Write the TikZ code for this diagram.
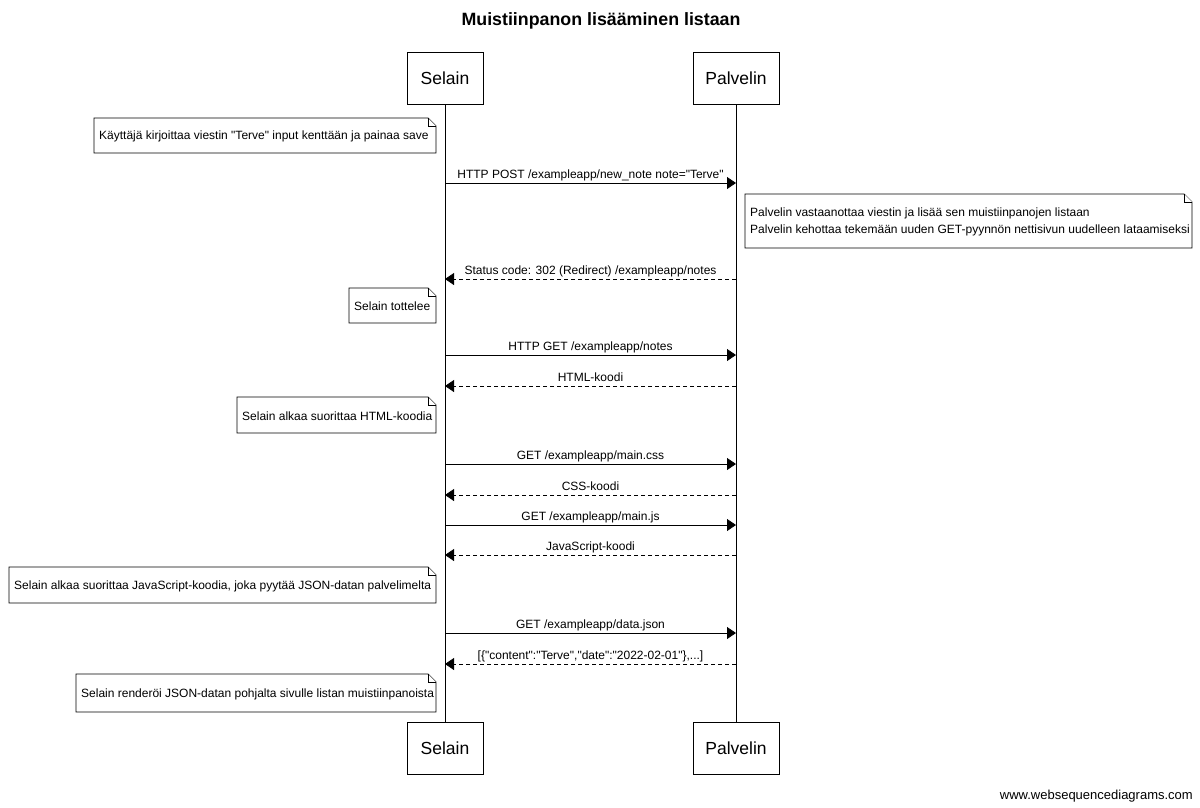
\documentclass[tikz,border=0pt]{standalone}
\usepackage{fontspec}
\setmainfont{Liberation Sans}[Ligatures=TeXOff]
\usetikzlibrary{arrows.meta}
\newcommand\mynote[6]{%
  \draw[notebox] (#2,#3) -- ({#4-8},#3) -- (#4,{#3+8}) -- (#4,#5) -- (#2,#5) -- cycle;
  \draw[notebox] ({#4-8},#3) -- ({#4-8},{#3+8}) -- (#4,{#3+8});
  \node[notetext] (#1) at ({#2+5},{(#3+#5)/2+1}) {#6};
}
\begin{document}
\begin{tikzpicture}[x=1pt,y=-1pt,
  actor/.style={draw, line width=0.8pt, minimum height=52pt, inner sep=0pt, font=\fontsize{17.5}{20}\selectfont},
  life/.style={line width=0.8pt},
  msg/.style={line width=0.8pt, -{Triangle[length=9pt,width=12pt]}},
  ret/.style={msg, dash pattern=on 4pt off 3pt},
  lbl/.style={font=\fontsize{12}{14}\selectfont, inner sep=0pt, anchor=base, yshift=5pt},
  notebox/.style={line width=0.8pt, fill=white},
  notetext/.style={font=\fontsize{12}{17}\selectfont, inner sep=0pt, anchor=west, align=left}
]
\useasboundingbox[fill=white] (0,0) rectangle (1200,807);

\node[font=\bfseries\fontsize{17.8}{21}\selectfont] (title) at (601,21) {Muistiinpanon lisääminen listaan};

\node[actor, minimum width=76pt] (selTop) at (445,78) {Selain};
\node[actor, minimum width=86pt] (palTop) at (736,78) {Palvelin};
\node[actor, minimum width=76pt] (selBot) at (445,748) {Selain};
\node[actor, minimum width=86pt] (palBot) at (736,748) {Palvelin};

\draw[life] (selTop.south) -- (selBot.north);
\draw[life] (palTop.south) -- (palBot.north);

\mynote{n1}{94}{118}{436}{153}{Käyttäjä kirjoittaa viestin "Terve" input kenttään ja painaa save}

\coordinate (s1) at (445,183); \coordinate (p1) at (736,183);
\draw[msg] (s1) -- node[lbl] {HTTP POST /exampleapp/new\_note note="Terve"} (p1);

\mynote{n2}{745}{194}{1192}{248}{Palvelin vastaanottaa viestin ja lisää sen muistiinpanojen listaan\\Palvelin kehottaa tekemään uuden GET-pyynnön nettisivun uudelleen lataamiseksi}

\coordinate (s2) at (445,279); \coordinate (p2) at (736,279);
\draw[ret] (p2) -- node[lbl] {Status code: 302 (Redirect) /exampleapp/notes} (s2);

\mynote{n3}{349}{288}{436}{323}{Selain tottelee}

\coordinate (s3) at (445,355); \coordinate (p3) at (736,355);
\draw[msg] (s3) -- node[lbl] {HTTP GET /exampleapp/notes} (p3);

\coordinate (s4) at (445,386); \coordinate (p4) at (736,386);
\draw[ret] (p4) -- node[lbl] {HTML-koodi} (s4);

\mynote{n4}{237}{397}{436}{433}{Selain alkaa suorittaa HTML-koodia}

\coordinate (s5) at (445,464); \coordinate (p5) at (736,464);
\draw[msg] (s5) -- node[lbl] {GET /exampleapp/main.css} (p5);

\coordinate (s6) at (445,495); \coordinate (p6) at (736,495);
\draw[ret] (p6) -- node[lbl] {CSS-koodi} (s6);

\coordinate (s7) at (445,525); \coordinate (p7) at (736,525);
\draw[msg] (s7) -- node[lbl] {GET /exampleapp/main.js} (p7);

\coordinate (s8) at (445,555); \coordinate (p8) at (736,555);
\draw[ret] (p8) -- node[lbl] {JavaScript-koodi} (s8);

\mynote{n5}{9}{567}{436}{603}{Selain alkaa suorittaa JavaScript-koodia, joka pyytää JSON-datan palvelimelta}

\coordinate (s9) at (445,633); \coordinate (p9) at (736,633);
\draw[msg] (s9) -- node[lbl] {GET /exampleapp/data.json} (p9);

\coordinate (s10) at (445,664); \coordinate (p10) at (736,664);
\draw[ret] (p10) -- node[lbl] {[\{"content":"Terve","date":"2022-02-01"\},...]} (s10);

\mynote{n6}{76}{674}{436}{712}{Selain renderöi JSON-datan pohjalta sivulle listan muistiinpanoista}

\node[font=\fontsize{13}{15}\selectfont, anchor=east, inner sep=0pt] (footer) at (1193,796) {www.websequencediagrams.com};
\end{tikzpicture}
\end{document}
